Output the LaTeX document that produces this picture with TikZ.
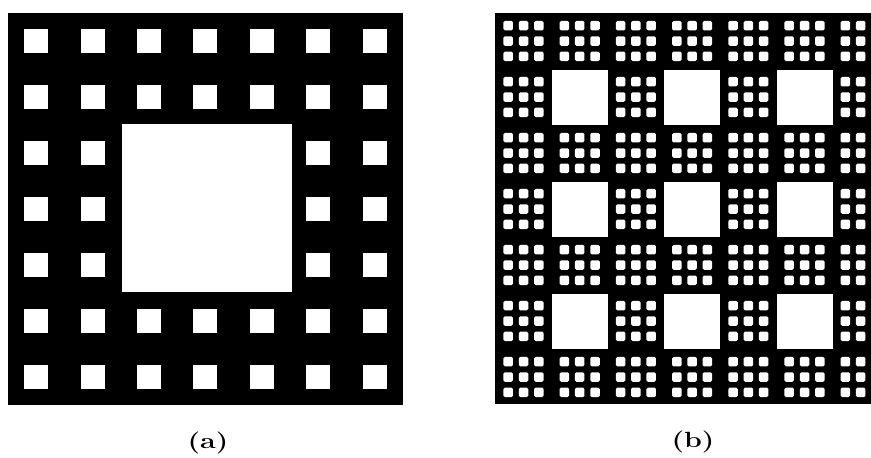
\documentclass[tikz,border=0pt]{standalone}
\begin{document}
\begin{tikzpicture}[x=1pt,y=-1pt,
  ground/.style={fill=black},
  hole/.style={fill=white},
  dot/.style={fill=white,rounded corners=1.5pt},
  caption/.style={font=\bfseries\fontsize{22}{22}\selectfont,inner sep=0pt}]
\clip (0,0) rectangle (871,458);
\fill[white] (0,0) rectangle (871,458);
% ---------- (a) ----------
\fill[ground] (8,13) rectangle (403,405);
\foreach \i in {0,...,6}{
  \foreach \j in {0,...,6}{
    \pgfmathsetmacro\cx{36.2+56.4*\i}
    \pgfmathsetmacro\cy{41+56*\j}
    \fill[hole] (\cx-12,\cy-12) rectangle (\cx+12,\cy+12);
  }
}
\fill[hole] (122,124) rectangle (292,292);
% ---------- (b) ----------
\fill[ground] (495,13) rectangle (900,404);
\foreach \i in {0,...,6}{
  \foreach \j in {0,...,6}{
    \pgfmathsetmacro\cx{523.5+56.2*\i}
    \pgfmathsetmacro\cy{41+56*\j}
    \pgfmathtruncatemacro\isbig{and(isodd(\i),isodd(\j))}
    \ifnum\isbig=1
      \fill[hole] (\cx-28,\cy-27.5) rectangle (\cx+28,\cy+27.5);
    \else
      \foreach \u in {-1,0,1}{
        \foreach \v in {-1,0,1}{
          \fill[dot] (\cx+15.3*\u-4.75,\cy+15.3*\v-4.75) rectangle (\cx+15.3*\u+4.75,\cy+15.3*\v+4.75);
        }
      }
    \fi
  }
}
% ---------- captions ----------
\node[caption] (la) at (208,443) {\scalebox{1.3}[1]{(a)}};
\node[caption] (lb) at (693,442) {\scalebox{1.3}[1]{(b)}};
\end{tikzpicture}
\end{document}
